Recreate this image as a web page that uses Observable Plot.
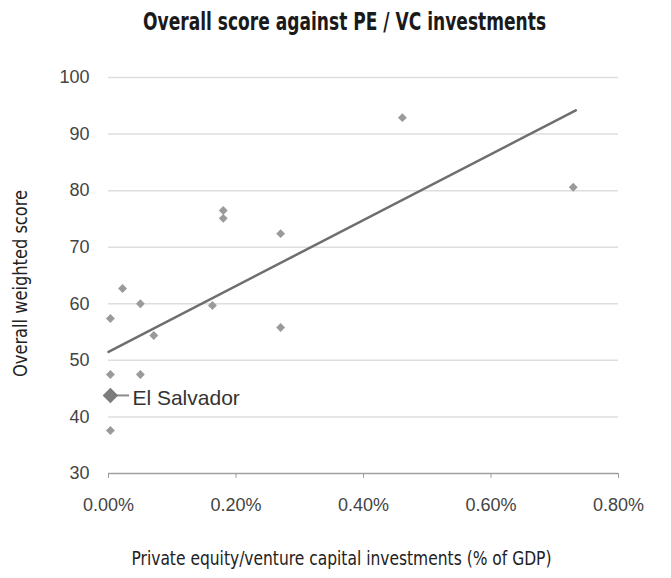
<!DOCTYPE html>
<html>
<head>
<meta charset="utf-8">
<script src="https://cdn.jsdelivr.net/npm/d3@7"></script>
<script src="https://cdn.jsdelivr.net/npm/@observablehq/plot@0.6"></script>
<style>
  html, body { margin: 0; padding: 0; background: #fff; }
  #wrap { width: 671px; }
  #title { height: 50px; position: relative; overflow: visible; }
  #title span {
    position: absolute; top: 6px; left: 0; white-space: nowrap;
    font-family: 'Liberation Sans Narrow', 'DejaVu Sans Condensed', 'Roboto', sans-serif;
    font-stretch: condensed; font-weight: bold; font-size: 25px; line-height: 32px; color: #1a1a1a;
    transform-origin: 50% 50%;
  }
</style>
</head>
<body>
<div id="wrap">
  <div id="title"><span id="titleText">Overall score against PE / VC investments</span></div>
  <div id="chart"></div>
</div>
<script>
// Countries: private equity / venture capital investments (% of GDP) and overall weighted score
const peShare = [0.022, 0.05, 0.003, 0.071, 0.163, 0.27, 0.003, 0.05, 0.003, 0.18, 0.18, 0.27, 0.461, 0.729];
const overallScore = [62.7, 60.0, 57.4, 54.4, 59.7, 55.8, 47.5, 47.5, 37.6, 76.5, 75.1, 72.4, 92.9, 80.6];

// Highlighted country
const highlightName = ["El Salvador"];
const highlightPe = [0.003];
const highlightScore = [43.8];

// Linear trend line end points
const trendPe = [0.0, 0.733];
const trendScore = [51.5, 94.2];

// Axis ticks
const xTicks = [0, 0.2, 0.4, 0.6, 0.8];
const yTicks = [30, 40, 50, 60, 70, 80, 90, 100];

const points = peShare.map((x, i) => ({x, y: overallScore[i]}));
const highlight = highlightName.map((name, i) => ({name, x: highlightPe[i], y: highlightScore[i]}));
const trend = trendPe.map((x, i) => ({x, y: trendScore[i]}));

const condensed = "'Liberation Sans Narrow', 'DejaVu Sans Condensed', 'Roboto', sans-serif";
const yLabel = "Overall weighted score";
const xLabel = "Private equity/venture capital investments (% of GDP)";

const chart = Plot.plot({
  width: 671,
  height: 528,
  marginTop: 27,
  marginBottom: 105,
  marginLeft: 108,
  marginRight: 53,
  style: {fontFamily: "'Liberation Sans', Arial, sans-serif", fontSize: "18px", color: "#444", background: "#fff"},
  x: {type: "linear", domain: [0, 0.8], ticks: xTicks, tickFormat: d => d.toFixed(2) + "%"},
  y: {type: "linear", domain: [30, 100], ticks: yTicks},
  marks: [
    Plot.gridY(yTicks.filter(d => d > 30), {stroke: "#dedede", strokeOpacity: 1, strokeWidth: 1.5}),
    Plot.ruleY([30], {stroke: "#a0a0a0", strokeWidth: 1.5}),
    Plot.axisY({ticks: yTicks, tickSize: 0, tickPadding: 19, label: null, fill: "#444"}),
    Plot.axisX({ticks: xTicks, tickSize: 5, tickPadding: 20, label: null, stroke: "#a0a0a0", fill: "#444", tickFormat: d => d.toFixed(2) + "%"}),
    Plot.line(trend, {x: "x", y: "y", stroke: "#6e6e6e", strokeWidth: 2.5}),
    Plot.dot(points, {x: "x", y: "y", symbol: "diamond2", r: 4, fill: "#9a9a9a", stroke: "none"}),
    Plot.ruleY(highlight, {x1: "x", x2: d => d.x + 0.03, y: "y", stroke: "#8a8a8a", strokeWidth: 2}),
    Plot.dot(highlight, {x: "x", y: "y", symbol: "diamond2", r: 7, fill: "#7c7c7c", stroke: "none"}),
    Plot.text(highlight, {x: "x", y: "y", text: "name", dx: 22, dy: 3, textAnchor: "start", fontSize: 21, fill: "#333", fontFamily: "'Liberation Sans', Arial, sans-serif"}),
    Plot.text([yLabel], {frameAnchor: "left", textAnchor: "middle", lineAnchor: "middle", dx: -88, dy: 8, rotate: -90, fontSize: 19, fill: "#222", fontFamily: condensed}),
    Plot.text([xLabel], {frameAnchor: "bottom", textAnchor: "middle", lineAnchor: "middle", dx: -22, dy: 85, fontSize: 20, fill: "#222", fontFamily: condensed})
  ]
});
document.getElementById("chart").appendChild(chart);

// Fit the condensed axis titles to the reference's lengths
d3.select(chart).selectAll("text").each(function () {
  const t = this.textContent;
  if (t === yLabel) d3.select(this).attr("textLength", 187).attr("lengthAdjust", "spacingAndGlyphs");
  if (t === xLabel) d3.select(this).attr("textLength", 420).attr("lengthAdjust", "spacingAndGlyphs");
});

// Narrow the title to the reference's width, centred at x = 345
const ts = document.getElementById("titleText");
const w = ts.getBoundingClientRect().width;
ts.style.left = (345 - w / 2) + "px";
ts.style.transform = "scaleX(" + (403 / w) + ")";
</script>
</body>
</html>
